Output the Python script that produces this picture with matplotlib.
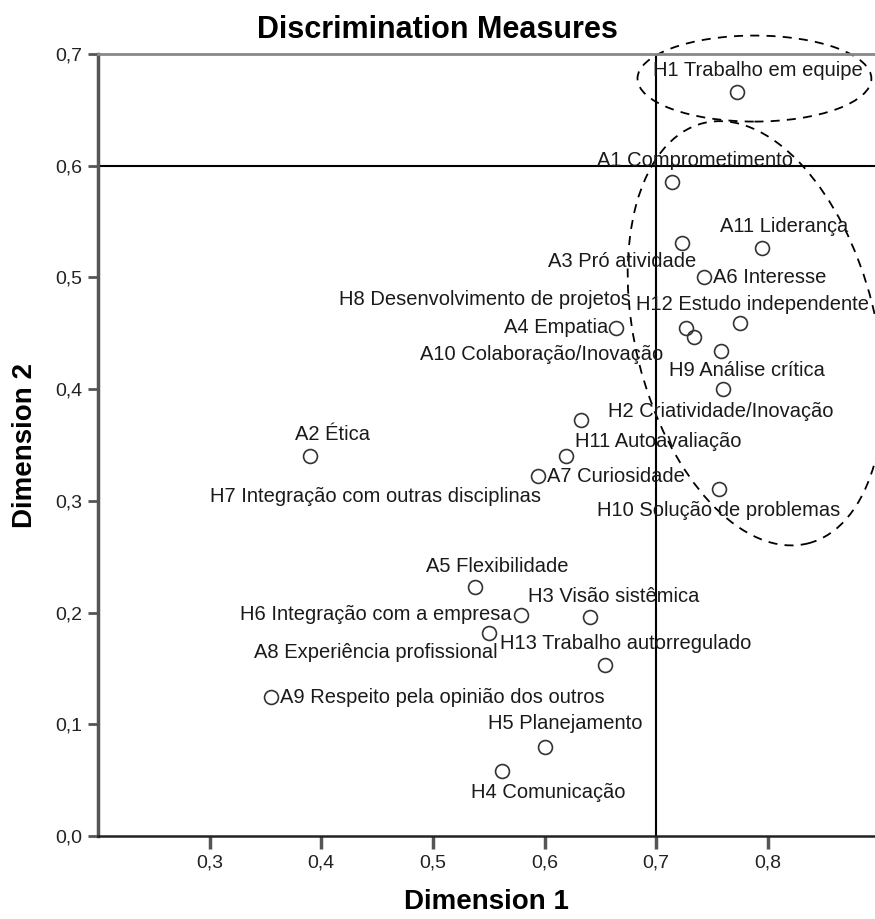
import matplotlib.pyplot as plt
from matplotlib.patches import Ellipse

plt.rcParams['font.family'] = ['Liberation Sans', 'DejaVu Sans']

# Discrimination measures (dimension 1, dimension 2)
labels = ['H1 Trabalho em equipe', 'A1 Comprometimento', 'A11 Liderança',
          'A3 Pró atividade', 'A6 Interesse', 'H12 Estudo independente',
          'A4 Empatia', 'H8 Desenvolvimento de projetos',
          'A10 Colaboração/Inovação', 'H9 Análise crítica',
          'H2 Criatividade/Inovação', 'A2 Ética', 'H11 Autoavaliação',
          'H7 Integração com outras disciplinas', 'A7 Curiosidade',
          'H10 Solução de problemas', 'A5 Flexibilidade', 'H3 Visão sistêmica',
          'H6 Integração com a empresa', 'A8 Experiência profissional',
          'H13 Trabalho autorregulado', 'A9 Respeito pela opinião dos outros',
          'H5 Planejamento', 'H4 Comunicação']
dim1 = [0.772, 0.714, 0.795, 0.723, 0.743, 0.775, 0.664, 0.727, 0.734, 0.758,
        0.760, 0.390, 0.633, 0.619, 0.594, 0.756, 0.538, 0.641, 0.579, 0.550,
        0.654, 0.355, 0.600, 0.562]
dim2 = [0.666, 0.585, 0.526, 0.531, 0.500, 0.459, 0.455, 0.455, 0.447, 0.434,
        0.400, 0.340, 0.372, 0.340, 0.322, 0.311, 0.223, 0.196, 0.198, 0.182,
        0.153, 0.124, 0.080, 0.058]

# label placement: offset in pixels and alignment
offsets = [(21, 21, 'center'), (23, 22, 'center'), (22, 22, 'center'),
           (-60, -19, 'center'), (9, 0, 'left'), (13, 19, 'center'),
           (-8, 0, 'right'), (-201, 28, 'center'), (-153, -18, 'center'),
           (26, -19, 'center'), (-2, -22, 'center'), (22, 22, 'center'),
           (77, -21, 'center'), (-190, -40, 'center'), (9, 0, 'left'),
           (0, -22, 'center'), (22, 20, 'center'), (23, 21, 'center'),
           (-9, 0, 'right'), (9, -20, 'right'), (21, 22, 'center'),
           (9, 0, 'left'), (21, 23, 'center'), (46, -21, 'center')]

xticks = [0.3, 0.4, 0.5, 0.6, 0.7, 0.8]
yticks = [0.0, 0.1, 0.2, 0.3, 0.4, 0.5, 0.6, 0.7]

fig = plt.figure(figsize=(8.75, 9.19), dpi=100)
ax = fig.add_axes([98 / 875, 1 - 836 / 919, 777 / 875, 782 / 919])

ax.plot(dim1, dim2, 'o', ms=10, mfc='none', mec='#333333', mew=1.2, zorder=3)
for lab, x, y, (dx, dy, ha) in zip(labels, dim1, dim2, offsets):
    ax.annotate(lab, (x, y), xytext=(dx, dy), textcoords='offset pixels',
                ha=ha, va='center', fontsize=14.5, color='#1a1a1a')

ax.axvline(0.7, color='black', lw=1.5, zorder=2)
ax.axhline(0.6, color='black', lw=1.5, zorder=2)

ax.add_patch(Ellipse((0.788, 0.678), 0.2095, 0.077, fill=False,
                     ls=(0, (5, 4)), lw=1.3, color='black', clip_on=False))
ax.add_patch(Ellipse((0.789, 0.450), 0.2154, 0.3877, angle=14, fill=False,
                     ls=(0, (5, 4)), lw=1.3, color='black', clip_on=False))

ax.set_xlim(0.2, 0.896)
ax.set_ylim(0.0, 0.7)
ax.set_xticks(xticks)
ax.set_xticklabels([f'{t:.1f}'.replace('.', ',') for t in xticks])
ax.set_yticks(yticks)
ax.set_yticklabels([f'{t:.1f}'.replace('.', ',') for t in yticks])
ax.tick_params(axis='y', length=7, width=2, color='#555555', pad=4,
               labelsize=14, labelcolor='#222222')
ax.tick_params(axis='x', length=9, width=2.5, color='#555555', pad=4,
               labelsize=14, labelcolor='#222222')

ax.spines['right'].set_visible(False)
ax.spines['left'].set_color('#555555')
ax.spines['left'].set_linewidth(2.5)
ax.spines['top'].set_color('#888888')
ax.spines['top'].set_linewidth(2)
ax.spines['bottom'].set_color('#222222')
ax.spines['bottom'].set_linewidth(1.8)

ax.set_xlabel('Dimension 1', fontsize=20, fontweight='bold', labelpad=13)
ax.set_ylabel('Dimension 2', fontsize=20, fontweight='bold', labelpad=13)
fig.text(437 / 875, 1 - 30 / 919, 'Discrimination Measures', ha='center',
         va='center', fontsize=22, fontweight='bold')

fig.savefig('out.png', dpi=100)
